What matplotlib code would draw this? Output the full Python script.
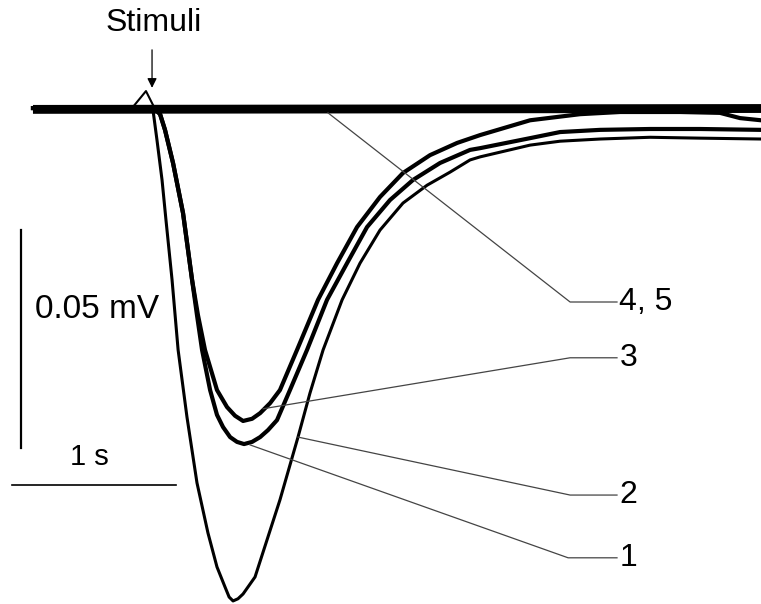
import matplotlib.pyplot as plt

plt.rcParams['font.family'] = ['Liberation Sans', 'DejaVu Sans']

# time in ms (stimulus at 0), potential in microvolts
t1 = [-726, -12, 6, 30, 61, 85, 122, 159, 213, 274, 341, 396, 445, 470, 494,
      524, 555, 628, 701, 780, 890, 963, 1043, 1159, 1268, 1390, 1530, 1677,
      1817, 1939, 2000, 2305, 2488, 2732, 3037, 3341, 3713]
v1 = [0, 0, -0.5, -7.3, -16.5, -25.7, -39.4, -55.5, -70.9, -86.0, -97.5,
      -105.3, -109.9, -112.2, -113.1, -112.6, -111.5, -107.6, -99.1, -89.9,
      -75.5, -65.4, -55.5, -44.0, -35.6, -28.0, -21.8, -17.7, -14.7, -11.9,
      -11.2, -8.5, -7.6, -7.1, -6.7, -6.9, -7.1]

t2 = [-726, -12, 18, 49, 79, 128, 189, 244, 274, 305, 354, 396, 433, 476,
      518, 561, 610, 659, 707, 762, 841, 945, 1067, 1189, 1311, 1451, 1591,
      1756, 1939, 2000, 2305, 2488, 2732, 3037, 3341, 3713]
v2 = [0, 0, -0.2, -1.4, -5.0, -12.6, -24.1, -39.4, -47.5, -55.5, -64.7,
      -70.4, -73.2, -75.5, -76.6, -77.1, -76.6, -75.5, -73.9, -71.6, -64.7,
      -55.5, -44.0, -35.6, -27.3, -21.1, -16.5, -12.6, -9.6, -9.2, -6.9,
      -5.5, -5.0, -4.8, -4.8, -5.0]

t3 = [-726, -12, 18, 49, 79, 128, 189, 244, 280, 323, 396, 457, 506, 555,
      610, 659, 720, 780, 884, 1012, 1128, 1250, 1390, 1530, 1695, 1860,
      2000, 2305, 2610, 2854, 3220, 3463, 3585, 3713]
v3 = [0, 0, -0.2, -1.4, -5.0, -12.6, -24.1, -39.4, -47.5, -55.5, -64.7,
      -68.6, -70.6, -71.8, -71.3, -70.0, -67.7, -64.7, -55.5, -44.0, -35.6,
      -27.3, -20.4, -14.9, -10.8, -8.0, -6.2, -2.8, -1.4, -0.9, -0.9, -1.1,
      -2.3, -2.8]

t45 = [-726, 3713]
v4 = [0.0, 0.2]
v5 = [-0.6, -0.4]

# stimulus artifact
t_stim = [-122, -37, 6]
v_stim = [0, 3.9, 0.7]

labels = ['4, 5', '3', '2', '1']
# leader lines: point on trace -> elbow -> label
leaders = [
    ([1073, 2549, 2835], [-1.1, -44.5, -44.5]),
    ([677, 2549, 2835], [-69.0, -57.3, -57.3]),
    ([890, 2549, 2835], [-75.5, -88.8, -88.8]),
    ([598, 2537, 2835], [-77.3, -103.2, -103.2]),
]

fig = plt.figure(figsize=(7.61, 6.04), dpi=100)
ax = fig.add_axes([0, 0, 1, 1])
ax.set_xlim(-927, 3713)
ax.set_ylim(-113.8, 24.8)
ax.axis('off')

ax.plot(t45, v4, color='black', lw=4.5, solid_capstyle='butt')
ax.plot(t45, v5, color='black', lw=4.5, solid_capstyle='butt')
ax.plot(t_stim, v_stim, color='black', lw=1.5)
ax.plot(t3, v3, color='black', lw=3.0, clip_on=False, solid_joinstyle='round')
ax.plot(t2, v2, color='black', lw=3.0, clip_on=False, solid_joinstyle='round')
ax.plot(t1, v1, color='black', lw=2.2, clip_on=False, solid_joinstyle='round')

for (lx, ly), lab in zip(leaders, labels):
    ax.plot(lx, ly, color='#444444', lw=0.9)
    ax.text(lx[-1] + 15, ly[-1], lab, fontsize=23, ha='left', va='center')

# stimulus arrow
ax.annotate('', xy=(0, 4.0), xytext=(0, 14.0),
            arrowprops=dict(arrowstyle='-|>', color='black', lw=0.9,
                            mutation_scale=14))
ax.text(12, 19.5, 'Stimuli', fontsize=23, ha='center', va='center')

# scale bars
ax.plot([-799, -799], [-78, -28], color='black', lw=1.6)
ax.plot([-854, 146], [-86.5, -86.5], color='black', lw=1.2)
ax.text(-713, -46.3, '0.05 mV', fontsize=24, ha='left', va='center')
ax.text(-384, -80.0, '1 s', fontsize=21, ha='center', va='center')

fig.savefig('out.png', dpi=100)
